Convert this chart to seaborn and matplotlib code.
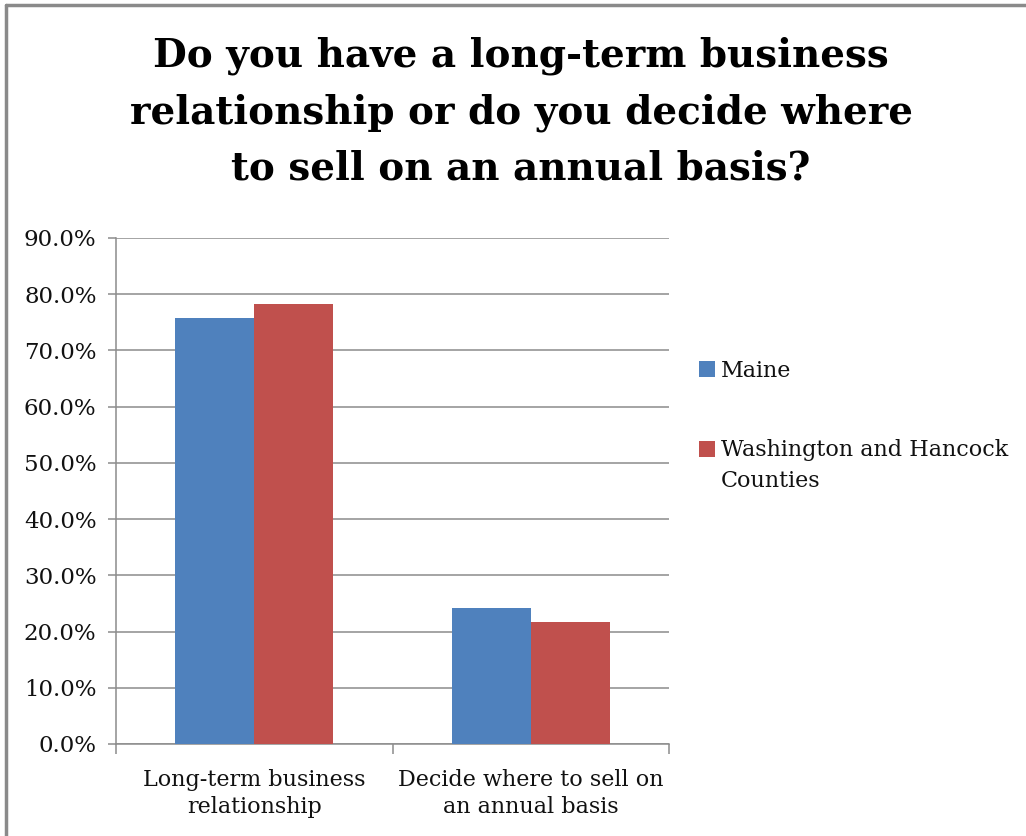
import matplotlib
matplotlib.use("Agg")
import matplotlib.pyplot as plt
import seaborn as sns
import pandas as pd
from matplotlib.patches import Rectangle
from matplotlib.lines import Line2D
from matplotlib.legend_handler import HandlerPatch
from matplotlib.ticker import FuncFormatter, MultipleLocator, FixedLocator

# Survey shares (percent)
categories = ["Long-term business\nrelationship", "Decide where to sell on\nan annual basis"]
series_names = ["Maine", "Washington and Hancock\nCounties"]
maine = [75.8, 24.2]
wash_hancock = [78.3, 21.7]
colors = ["#4F81BD", "#C0504D"]
title = "Do you have a long-term business\nrelationship or do you decide where\nto sell on an annual basis?"

df = pd.DataFrame({
    "category": categories * 2,
    "region": [series_names[0]] * 2 + [series_names[1]] * 2,
    "share": maine + wash_hancock,
})

sns.set_theme(style="white")
plt.rcParams["font.family"] = ["DejaVu Serif"]

fig = plt.figure(figsize=(10.26, 8.36), dpi=100)
ax = fig.add_axes([116 / 1026, 92 / 836, 553 / 1026, 506 / 836])

sns.barplot(data=df, x="category", y="share", hue="region", order=categories,
            hue_order=series_names, palette=colors, width=0.572, saturation=1,
            linewidth=0, ax=ax, legend=False, zorder=3)

grid_c = "#8C8C8C"
ax.set_ylim(0, 90)
ax.set_xlim(-0.5, 1.5)
ax.yaxis.set_major_locator(MultipleLocator(10))
ax.yaxis.set_major_formatter(FuncFormatter(lambda v, p: f"{v:.1f}%"))
ax.yaxis.grid(True, color=grid_c, linewidth=1.1, zorder=0)
ax.set_axisbelow(True)
ax.tick_params(axis="y", which="major", left=True, length=6, width=1.1, color=grid_c,
               labelsize=16.5, pad=8, labelcolor="#111111")
ax.tick_params(axis="x", which="major", length=0, labelsize=16, pad=18, labelcolor="#111111")
ax.xaxis.set_minor_locator(FixedLocator([-0.5, 0.5, 1.5]))
ax.tick_params(axis="x", which="minor", bottom=True, length=7, width=1.1, color=grid_c)
for lbl in ax.get_xticklabels():
    lbl.set_linespacing(1.3)
ax.set_xlabel("")
ax.set_ylabel("")
for s in ["top", "right"]:
    ax.spines[s].set_visible(False)
for s in ["left", "bottom"]:
    ax.spines[s].set_color(grid_c)
    ax.spines[s].set_linewidth(1.1)


# Legend swatch that sits beside the first line of a two-line label
def first_line_swatch(legend, orig_handle, xdescent, ydescent, width, height, fontsize):
    return Rectangle((-xdescent, -ydescent + 0.78 * fontsize), width, height)


handles = [Rectangle((0, 0), 1, 1, facecolor=c, edgecolor="none") for c in colors]
leg = fig.legend(handles, series_names, loc="upper left",
                 bbox_to_anchor=(699 / 1026, 1 - 360 / 836),
                 frameon=False, fontsize=16, handlelength=0.7, handleheight=0.7,
                 handletextpad=0.3, labelspacing=2.55, borderaxespad=0, borderpad=0,
                 handler_map={handles[1]: HandlerPatch(patch_func=first_line_swatch)})
for t in leg.get_texts():
    t.set_linespacing(1.55)
    t.set_color("#111111")

fig.text(521 / 1026, 1 - 112 / 836, title, ha="center", va="center", fontsize=28,
         fontweight="bold", linespacing=1.6, color="black")

# Outer chart frame (left and top edges)
fig.add_artist(Line2D([6 / 1026, 6 / 1026], [0, 1 - 5 / 836], transform=fig.transFigure,
                      color="#8A8A8A", linewidth=2.5))
fig.add_artist(Line2D([6 / 1026, 1], [1 - 5 / 836, 1 - 5 / 836], transform=fig.transFigure,
                      color="#8A8A8A", linewidth=2.5))

fig.savefig("out.png", dpi=100)
